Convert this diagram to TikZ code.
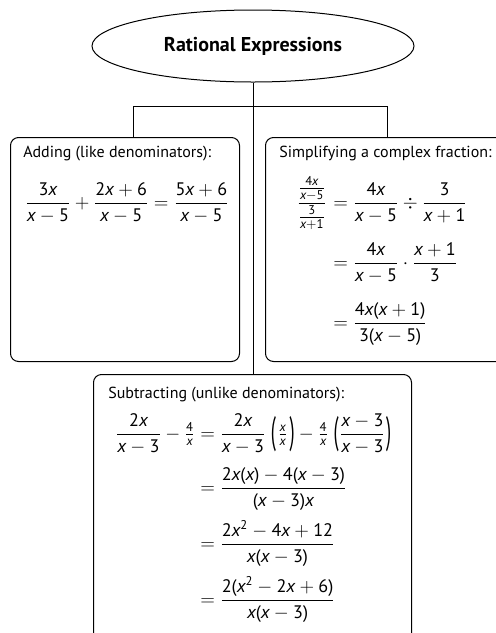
\documentclass[tikz,border=0pt]{standalone}
\usepackage{amsmath}
\usepackage[no-math]{fontspec}
\setmainfont{PT Sans}
\usetikzlibrary{shapes.geometric}
\AtBeginDocument{%
\DeclareSymbolFont{sfit}{TU}{\rmdefault}{m}{it}%
\DeclareSymbolFont{sfup}{TU}{\rmdefault}{m}{n}%
\DeclareMathSymbol{x}{\mathalpha}{sfit}{`x}%
\DeclareMathSymbol{0}{\mathalpha}{sfup}{`0}%
\DeclareMathSymbol{1}{\mathalpha}{sfup}{`1}%
\DeclareMathSymbol{2}{\mathalpha}{sfup}{`2}%
\DeclareMathSymbol{3}{\mathalpha}{sfup}{`3}%
\DeclareMathSymbol{4}{\mathalpha}{sfup}{`4}%
\DeclareMathSymbol{5}{\mathalpha}{sfup}{`5}%
\DeclareMathSymbol{6}{\mathalpha}{sfup}{`6}%
\DeclareMathSymbol{(}{\mathopen}{sfup}{`(}%
\DeclareMathSymbol{)}{\mathclose}{sfup}{`)}%
}
\newcommand\tallparen[1]{\vcenter{\hbox{\scalebox{1}[2.1]{#1}}}}
\tikzset{
  box/.style={draw, rounded corners=6pt, anchor=north west, line width=0.75pt},
  title/.style={anchor=base west, inner sep=0pt},
  eqn/.style={anchor=base west, inner sep=0pt, font=\fontsize{13.6}{16}\selectfont},
  lhs/.style={anchor=base east, inner sep=0pt, font=\fontsize{13.6}{16}\selectfont},
  conn/.style={line width=0.75pt},
}
\begin{document}
\begin{tikzpicture}[x=0.75pt,y=-0.75pt,font=\fontsize{12}{14}\selectfont]
\useasboundingbox (0,0) rectangle (496,633);
\clip (0,0) rectangle (496,633);
% ellipse
\node[ellipse, draw, line width=0.75pt, minimum width=241.5pt, minimum height=54pt, inner sep=0pt,
      font=\fontsize{15}{17}\selectfont\bfseries] (top) at (253,46) {Rational Expressions};
% boxes
\node[box, minimum width=171.75pt, minimum height=168pt] (lb) at (10,137) {};
\node[box, minimum width=180pt, minimum height=168pt] (rb) at (265,137) {};
\node[box, minimum width=238.5pt, minimum height=210pt] (sb) at (93,374) {};
% connectors
\coordinate (jl) at (133,106);
\coordinate (jr) at (387,106);
\draw[conn] (top.south) -- (top.south |- sb.north);
\draw[conn] (lb.north west -| jl) -- (jl) -- (jr) -- (rb.north west -| jr);
% left box
\node[title] (lt) at (23,157) {Adding (like denominators):};
\node[eqn] (le) at (25,208) {$\displaystyle \frac{3x}{x-5}+\frac{2x+6}{x-5}=\frac{5x+6}{x-5}$};
% right box
\node[title] (rt) at (279,157) {Simplifying a complex fraction:};
\node[lhs] (r0) at (327,208) {$\displaystyle \frac{\tfrac{4x}{x-5}}{\tfrac{3}{x+1}}$};
\node[eqn] (r1) at (333,208) {$\displaystyle = \frac{4x}{x-5}\div\frac{3}{x+1}$};
\node[eqn] (r2) at (333,268) {$\displaystyle = \frac{4x}{x-5}\cdot\frac{x+1}{3}$};
\node[eqn] (r3) at (333,328) {$\displaystyle = \frac{4x(x+1)}{3(x-5)}$};
% subtract box
\node[title] (st) at (108,398) {Subtracting (unlike denominators):};
\node[lhs] (s0) at (195,439) {$\displaystyle \frac{2x}{x-3}-\tfrac{4}{x}$};
\node[eqn] (s1) at (200,439) {$\displaystyle = \frac{2x}{x-3}\mkern5mu\mathclose{\tallparen{(}\mkern2mu\tfrac{x}{x}\mkern2mu\tallparen{)}}-\tfrac{4}{x}\mkern5mu\mathclose{\tallparen{(}\mkern1mu\frac{x-3}{x-3}\mkern1mu\tallparen{)}}$};
\node[eqn] (s2) at (200,493) {$\displaystyle = \frac{2x(x)-4(x-3)}{(x-3)x}$};
\node[eqn] (s3) at (200,549) {$\displaystyle = \frac{2x^2-4x+12}{x(x-3)}$};
\node[eqn] (s4) at (200,605) {$\displaystyle = \frac{2(x^2-2x+6)}{x(x-3)}$};
\end{tikzpicture}
\end{document}
